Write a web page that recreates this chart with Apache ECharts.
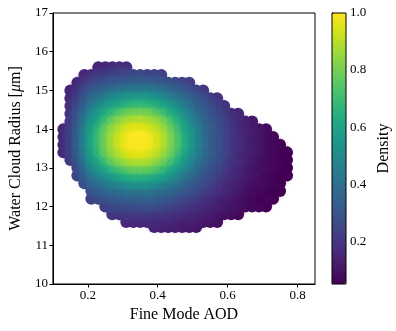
<!DOCTYPE html>
<html><head><meta charset="utf-8">
<script src="https://cdn.jsdelivr.net/npm/echarts@6/dist/echarts.min.js"></script>
<style>html,body{margin:0;padding:0;background:#fff}#c{width:396px;height:331px}</style>
</head><body><div id="c"></div>
<script>
// Grid columns (Fine Mode AOD) used by the density rows
const xCols = [0.13,0.15,0.17,0.19,0.21,0.23,0.25,0.27,0.29,0.31,0.33,0.35,0.37,0.39,0.41,0.43,0.45,0.47,0.49,0.51,0.53,0.55,0.57,0.59,0.61,0.63,0.65,0.67,0.69,0.71,0.73,0.75,0.77,0.79];
// Water cloud radius of each row
const rowY = [15.6,15.4,15.2,15.0,14.8,14.6,14.4,14.2,14.0,13.8,13.6,13.4,13.2,13.0,12.8,12.6,12.4,12.2,12.0,11.8,11.6,11.47];
// index into xCols of the first point of each row
const rowStart = [5,3,2,1,1,1,1,1,0,0,0,0,1,2,2,3,4,4,6,7,9,13];
// density for each row
const rowDensity = [
 [0.15,0.16,0.17,0.18,0.18],
 [0.16,0.18,0.20,0.21,0.22,0.23,0.24,0.25,0.25,0.24,0.24,0.23],
 [0.16,0.19,0.23,0.25,0.27,0.29,0.30,0.31,0.32,0.32,0.32,0.31,0.29,0.28,0.26,0.24,0.22],
 [0.15,0.18,0.24,0.29,0.32,0.35,0.37,0.39,0.40,0.41,0.42,0.41,0.40,0.38,0.36,0.33,0.30,0.27,0.24,0.21],
 [0.16,0.21,0.28,0.35,0.39,0.43,0.47,0.50,0.52,0.53,0.54,0.53,0.51,0.48,0.44,0.40,0.37,0.33,0.29,0.26,0.22,0.19],
 [0.18,0.24,0.32,0.40,0.46,0.51,0.56,0.60,0.63,0.65,0.66,0.64,0.62,0.58,0.53,0.48,0.43,0.38,0.33,0.29,0.25,0.22,0.19],
 [0.19,0.27,0.36,0.46,0.53,0.60,0.66,0.71,0.75,0.78,0.78,0.77,0.73,0.68,0.62,0.56,0.49,0.43,0.37,0.32,0.28,0.24,0.20,0.17,0.15],
 [0.21,0.28,0.39,0.51,0.59,0.67,0.75,0.81,0.85,0.87,0.88,0.86,0.83,0.78,0.70,0.63,0.55,0.47,0.40,0.35,0.30,0.26,0.22,0.18,0.16,0.13,0.11],
 [0.16,0.22,0.30,0.41,0.55,0.64,0.74,0.82,0.87,0.92,0.95,0.95,0.93,0.89,0.84,0.77,0.68,0.59,0.51,0.43,0.37,0.32,0.27,0.23,0.19,0.16,0.14,0.12,0.10,0.08],
 [0.16,0.22,0.31,0.43,0.57,0.67,0.77,0.85,0.91,0.96,0.99,1.00,0.98,0.93,0.88,0.80,0.72,0.62,0.53,0.45,0.38,0.32,0.28,0.23,0.19,0.17,0.14,0.12,0.10,0.08,0.07],
 [0.16,0.22,0.31,0.43,0.57,0.67,0.77,0.85,0.91,0.96,0.99,0.99,0.98,0.93,0.88,0.80,0.72,0.62,0.53,0.45,0.38,0.32,0.28,0.23,0.19,0.17,0.14,0.12,0.10,0.08,0.07,0.06],
 [0.16,0.22,0.30,0.41,0.55,0.64,0.74,0.82,0.87,0.92,0.95,0.95,0.93,0.89,0.84,0.77,0.68,0.59,0.51,0.43,0.37,0.32,0.27,0.23,0.19,0.16,0.14,0.12,0.10,0.08,0.07,0.06,0.05],
 [0.21,0.28,0.39,0.51,0.59,0.67,0.75,0.80,0.84,0.87,0.87,0.86,0.82,0.77,0.70,0.62,0.54,0.47,0.40,0.35,0.30,0.26,0.21,0.18,0.16,0.13,0.11,0.09,0.08,0.07,0.06,0.05],
 [0.26,0.35,0.45,0.52,0.58,0.64,0.69,0.73,0.76,0.76,0.75,0.71,0.67,0.60,0.54,0.48,0.42,0.36,0.31,0.27,0.24,0.20,0.17,0.15,0.12,0.10,0.09,0.08,0.07,0.06,0.05],
 [0.24,0.31,0.39,0.44,0.49,0.54,0.58,0.61,0.63,0.63,0.62,0.59,0.56,0.51,0.46,0.41,0.37,0.32,0.28,0.25,0.21,0.18,0.16,0.14,0.12,0.10,0.08,0.07,0.06,0.05,0.05],
 [0.27,0.33,0.37,0.41,0.44,0.47,0.49,0.50,0.51,0.50,0.48,0.45,0.42,0.39,0.35,0.31,0.28,0.25,0.22,0.19,0.16,0.14,0.13,0.10,0.09,0.08,0.07,0.06,0.05],
 [0.28,0.31,0.34,0.36,0.38,0.39,0.40,0.40,0.40,0.38,0.37,0.35,0.32,0.29,0.27,0.24,0.21,0.19,0.17,0.15,0.13,0.11,0.09,0.08,0.07,0.06,0.05,0.05],
 [0.23,0.25,0.27,0.29,0.30,0.31,0.32,0.32,0.32,0.31,0.29,0.28,0.26,0.24,0.22,0.20,0.18,0.16,0.14,0.13,0.11,0.10,0.08,0.07,0.06,0.06,0.05],
 [0.22,0.24,0.25,0.25,0.26,0.26,0.26,0.25,0.24,0.23,0.21,0.20,0.18,0.17,0.15,0.14,0.13,0.11,0.10,0.09,0.07,0.07,0.06,0.05],
 [0.19,0.19,0.20,0.20,0.20,0.20,0.19,0.19,0.18,0.17,0.16,0.15,0.14,0.13,0.12,0.10,0.09,0.08,0.07],
 [0.16,0.16,0.16,0.16,0.16,0.15,0.15,0.14,0.13,0.13,0.12,0.11,0.10,0.09],
 [0.14,0.14,0.13,0.13,0.12,0.11,0.10]
];
const xTicks = [0.2,0.4,0.6,0.8];
const cbTicks = [0.2,0.4,0.6,0.8,1.0];
const D_MIN = 0.05, D_MAX = 1.0;
const viridis = ['#440154','#471365','#482475','#463480','#414487','#3b528b','#355f8d','#306a8e','#2a788e','#25848e','#21918c','#1e9c89','#22a884','#2fb47c','#44bf70','#5ec962','#7ad151','#9bd93c','#bddf26','#dfe318','#fde725'];

// which grid cells hold a point
const has = (r, c) => r >= 0 && r < rowY.length && c >= rowStart[r] && c < rowStart[r] + rowDensity[r].length;
const points = [];
rowY.forEach((y, r) => {
  rowDensity[r].forEach((d, i) => {
    const c = rowStart[r] + i;
    const inner = has(r - 1, c) && has(r + 1, c) && has(r, c - 1) && has(r, c + 1);
    points.push({d, inner, value:[xCols[c], y, d]});
  });
});
points.sort((a, b) => a.d - b.d);
// soft blending between neighbouring markers inside the cloud (outline markers stay crisp)
const seriesData = points.map(p => {
  if (!p.inner) return {value:p.value};
  const col = echarts.color.lerp((p.d - D_MIN) / (D_MAX - D_MIN), viridis);
  return {value:p.value, itemStyle:{shadowBlur:6, shadowColor:col}};
});

const FONT = 'Liberation Serif';
const lbl = {color:'#000', fontFamily:FONT, fontSize:13};
const chart = echarts.init(document.getElementById('c'), null, {renderer:'canvas'});
chart.setOption({
  animation:false,
  backgroundColor:'#fff',
  grid:[
    {left:47, top:13, width:268, height:271, show:true, borderColor:'#000', borderWidth:1, z:5},
    {left:332, top:13, width:14, height:271, show:true, borderColor:'#000', borderWidth:1, z:5}
  ],
  xAxis:[
    {type:'value', gridIndex:0, min:0.1, max:0.85, splitLine:{show:false},
     axisLine:{show:true, lineStyle:{color:'#000'}},
     axisTick:{show:true, length:3.5, customValues:xTicks, lineStyle:{color:'#000'}},
     axisLabel:Object.assign({customValues:xTicks, margin:5, formatter:v=>v.toFixed(1)}, lbl),
     name:'Fine Mode AOD', nameLocation:'middle', nameGap:23,
     nameTextStyle:{color:'#000', fontFamily:FONT, fontSize:16}},
    {type:'value', gridIndex:1, show:false, min:0, max:1}
  ],
  yAxis:[
    {type:'value', gridIndex:0, min:10, max:17, interval:1, splitLine:{show:false},
     axisLine:{show:true, lineStyle:{color:'#000'}},
     axisTick:{show:true, length:3.5, lineStyle:{color:'#000'}},
     axisLabel:Object.assign({margin:5}, lbl),
     name:'{a|Water Cloud Radius [}{b|μ}{a|m]}', nameLocation:'middle', nameGap:27, nameRotate:90,
     nameTextStyle:{rich:{a:{color:'#000', fontFamily:FONT, fontSize:16}, b:{color:'#000', fontFamily:FONT, fontSize:16, fontStyle:'italic'}}}},
    {type:'value', gridIndex:1, position:'right', min:D_MIN, max:D_MAX, splitLine:{show:false},
     axisLine:{show:true, lineStyle:{color:'#000'}},
     axisTick:{show:true, length:3.5, customValues:cbTicks, lineStyle:{color:'#000'}},
     axisLabel:Object.assign({customValues:cbTicks, margin:4, formatter:v=>v.toFixed(1)}, lbl),
     name:'Density', nameLocation:'middle', nameGap:30, nameRotate:90,
     nameTextStyle:{color:'#000', fontFamily:FONT, fontSize:16}}
  ],
  visualMap:{type:'continuous', min:D_MIN, max:D_MAX, dimension:2, seriesIndex:0,
    left:332, top:13, itemWidth:14, itemHeight:271, padding:0, z:1,
    calculable:false, hoverLink:false, text:null, inRange:{color:viridis}},
  series:[{type:'scatter', xAxisIndex:0, yAxisIndex:0, data:seriesData, symbol:'circle', symbolSize:12,
    itemStyle:{opacity:1}, emphasis:{disabled:true}, z:2}]
});
</script></body></html>
